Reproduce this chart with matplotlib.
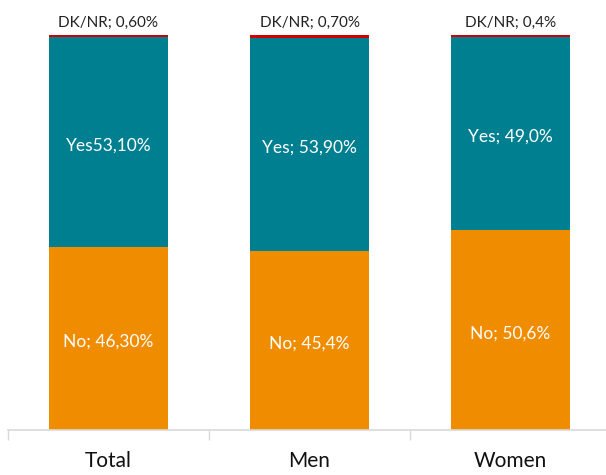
import matplotlib
matplotlib.use("Agg")
import matplotlib.pyplot as plt
import numpy as np

plt.rcParams['font.family'] = ['Lato', 'DejaVu Sans']

categories = ["Total", "Men", "Women"]
no_vals = [46.3, 45.4, 50.6]
yes_vals = [53.1, 53.9, 49.0]
dk_vals = [0.6, 0.7, 0.4]
no_labels = ["No; 46,30%", "No; 45,4%", "No; 50,6%"]
yes_labels = ["Yes53,10%", "Yes; 53,90%", "Yes; 49,0%"]
dk_labels = ["DK/NR; 0,60%", "DK/NR; 0,70%", "DK/NR; 0,4%"]

c_no = "#F08C00"
c_yes = "#007F90"
c_dk = "#D00000"

fig = plt.figure(figsize=(6.06, 4.75), dpi=100)
ax = fig.add_axes([8/606, 45/475, 603/606, 395/475])

x = np.arange(len(categories))
w = 0.59
no = np.array(no_vals)
yes = np.array(yes_vals)
dk = np.array(dk_vals)

ax.bar(x, no, w, color=c_no)
ax.bar(x, yes, w, bottom=no, color=c_yes)
ax.bar(x, dk, w, bottom=no + yes, color=c_dk)

for i in range(len(categories)):
    ax.text(x[i], no[i] / 2 - 0.8, no_labels[i], ha='center', va='center',
            color='white', fontsize=12.5)
    ax.text(x[i], no[i] + yes[i] / 2 - 0.8, yes_labels[i], ha='center',
            va='center', color='white', fontsize=12.5)
    ax.text(x[i], no[i] + yes[i] + dk[i] + 1.2, dk_labels[i], ha='center',
            va='bottom', color='#222222', fontsize=11)

ax.set_xlim(-0.5, 2.5)
ax.set_ylim(0, 100)
ax.set_xticks([-0.5, 0.5, 1.5, 2.5])
ax.set_xticklabels([])
ax.set_xticks(x, minor=True)
ax.set_xticklabels(categories, minor=True, fontsize=15, color='#111111')
ax.tick_params(axis='x', which='major', length=7, color='#D9D9D9', width=1)
ax.tick_params(axis='x', which='minor', length=0, pad=15)
ax.set_yticks([])
for s in ['top', 'right', 'left']:
    ax.spines[s].set_visible(False)
ax.spines['bottom'].set_color('#D9D9D9')
ax.spines['bottom'].set_linewidth(1.2)

fig.savefig("out.png", dpi=100)
